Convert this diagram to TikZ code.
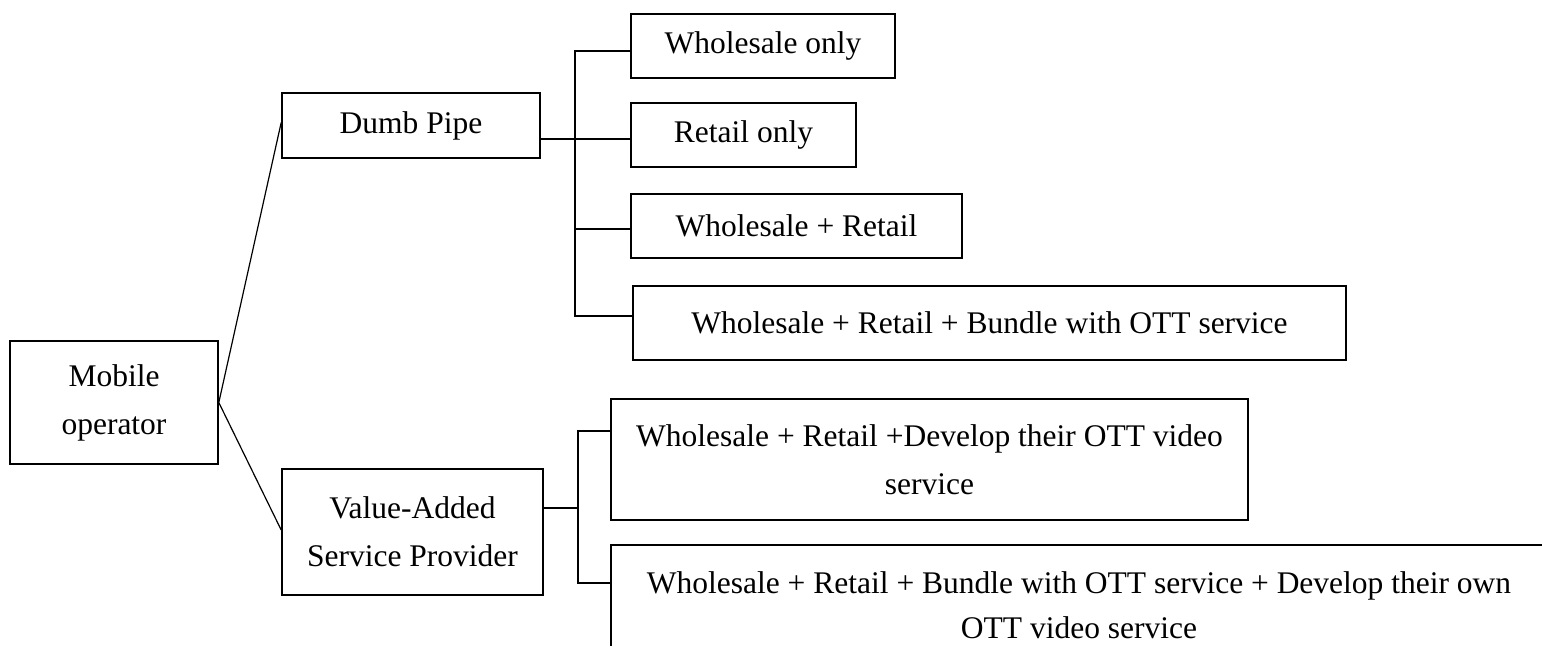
\documentclass[tikz,border=0pt]{standalone}
\usepackage{fontspec}
\setmainfont{Liberation Serif}
\begin{document}
\begin{tikzpicture}[x=1pt,y=-1pt,
  box/.style={draw,line width=1.6pt,rectangle,inner sep=0pt,align=center,
    font=\fontsize{31.5}{48}\selectfont},
  txt/.style={inner sep=0pt,align=center,font=\fontsize{31.5}{45}\selectfont},
  conn/.style={line width=1.2pt}]
\useasboundingbox (0,0) rectangle (1542,646);
% nodes
\node[box,minimum width=208pt,minimum height=123pt] (mob) at (114,402.5) {Mobile\\operator};
\node[box,minimum width=258pt,minimum height=65pt] (dumb) at (411,125.5) {Dumb Pipe};
\node[box,minimum width=261pt,minimum height=126pt] (vasp) at (412.5,532) {Value-Added\\Service Provider};
\node[box,minimum width=264pt,minimum height=64pt] (w1) at (763,46) {Wholesale only};
\node[box,minimum width=225pt,minimum height=64pt] (w2) at (743.5,135) {Retail only};
\node[box,minimum width=331pt,minimum height=64pt] (w3) at (796.5,226) {Wholesale + Retail};
\node[box,minimum width=713pt,minimum height=74pt] (w4) at (989.5,323) {Wholesale + Retail + Bundle with OTT service};
\node[box,minimum width=637pt,minimum height=121pt] (v1) at (929.5,459.5) {Wholesale + Retail +Develop their OTT video\\service};
\node[txt] (v2) at (1079,605) {Wholesale + Retail + Bundle with OTT service + Develop their own\\OTT video service};
% open box of v2
\coordinate (v2tl) at (611,545);
\coordinate (v2tr) at (1542,545);
\coordinate (v2bl) at (611,646);
\draw[line width=1.6pt] (v2tr) -- (v2tl) -- (v2bl);
% connectors from mobile operator
\draw[conn] (mob.east) -- ([yshift=3pt]dumb.west);
\draw[conn] (mob.east) -- ([yshift=2pt]vasp.west);
% dumb pipe bus
\coordinate (dp) at ([yshift=-13.5pt]dumb.east);
\coordinate (b1) at (575,51);
\coordinate (b3) at (575,229);
\coordinate (b4) at (575,316);
\draw[conn] (dp) -- (dp -| w2.west);
\draw[conn] (b1 -| w1.west) -- (b1) -- (b4) -- (b4 -| w4.west);
\draw[conn] (b3) -- (b3 -| w3.west);
% value-added bus
\coordinate (vp) at ([yshift=24pt]vasp.east);
\coordinate (c1) at (578,431);
\coordinate (c2) at (578,583);
\draw[conn] (vp) -- (vp -| c1);
\draw[conn] (c1 -| v1.west) -- (c1) -- (c2) -- (c2 -| v2tl);
\end{tikzpicture}
\end{document}
